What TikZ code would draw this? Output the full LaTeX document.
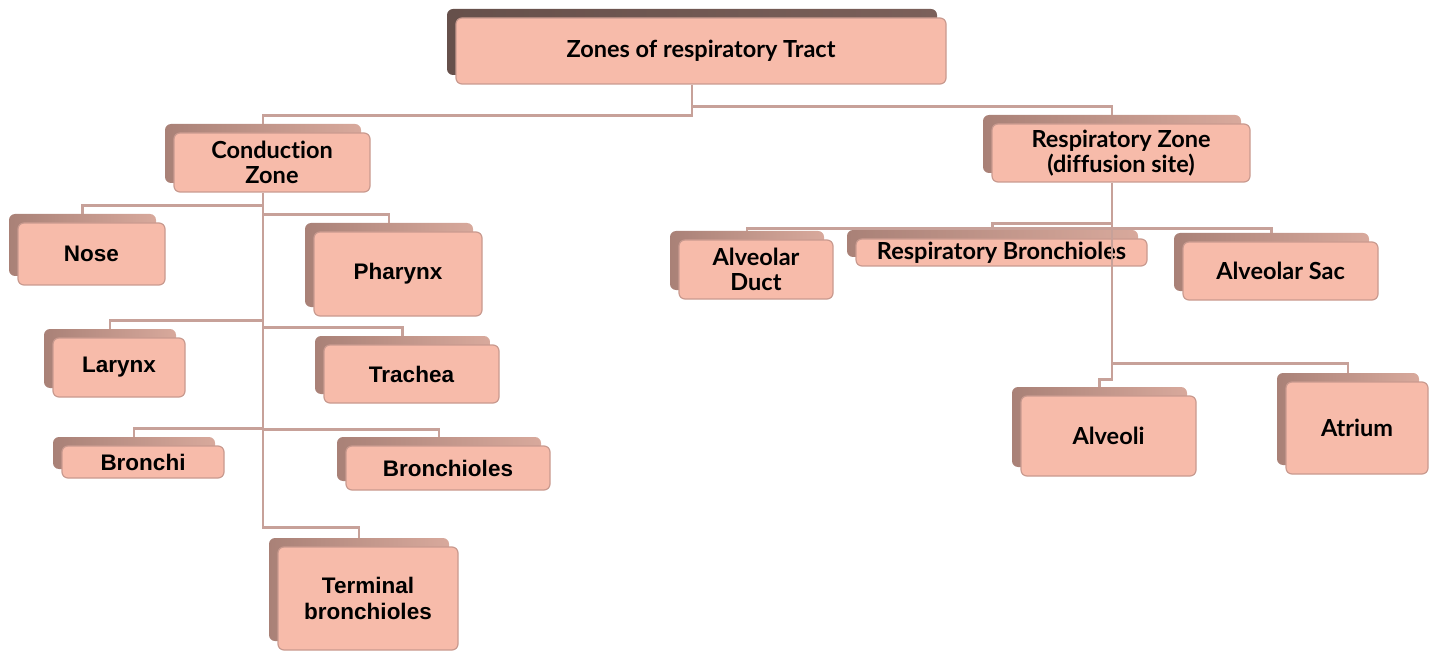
\documentclass[tikz,border=0pt]{standalone}
\usepackage{fontspec}
\setmainfont{Liberation Sans}
\newfontfamily\gill[Ligatures={NoCommon,NoDiscretionary}]{Lato}
\definecolor{rosa}{HTML}{F7BBAA}
\definecolor{rand}{HTML}{C99A8F}
\definecolor{linie}{HTML}{C7A199}
\definecolor{schattenA}{HTML}{A98177}
\definecolor{schattenB}{HTML}{D8A99C}
\definecolor{dunkelA}{HTML}{66504B}
\definecolor{dunkelB}{HTML}{7B605A}
\tikzset{
	feld/.style={draw=rand,fill=rosa,line width=1.2pt,rounded corners=6pt,align=center,inner sep=0pt},
	schatten/.style={rounded corners=6pt,inner sep=0pt,outer sep=0pt},
	hell/.style={left color=schattenA,right color=schattenB},
	dunkel/.style={left color=dunkelA,right color=dunkelB},
	kopf/.style={font=\gill\bfseries\fontsize{23.5}{25}\selectfont},
	blatt/.style={font=\bfseries\fontsize{22.5}{26}\selectfont},
	verbindung/.style={draw=linie,line width=2.5pt}
}
\def\kasten#1#2#3#4#5#6#7#8{
	\node[schatten,#2,minimum width={(#6-#4)*1pt},minimum height={(#7-#5)*1pt}]
		(#1-s) at ({(#4+#6)/2-9},{(#5+#7)/2-9}) {};
	\node[feld,#3,minimum width={(#6-#4)*1pt},minimum height={(#7-#5)*1pt}]
		(#1) at ({(#4+#6)/2},{(#5+#7)/2}) {#8};
}

\begin{document}
\begin{tikzpicture}[x=1pt,y=-1pt]
\useasboundingbox (0,0) rectangle (1437,652);
\kasten{oben}{dunkel}{kopf}{456}{18}{946}{84}{Zones of respiratory Tract}
\kasten{leitung}{hell}{kopf}{174}{133}{370}{192}{Conduction\\Zone}
\kasten{atmung}{hell}{kopf}{992}{124}{1250}{182}{Respiratory Zone\\(diffusion site)}
\kasten{nase}{hell}{blatt}{18}{223}{165}{285}{Nose}
\kasten{rachen}{hell}{blatt}{314}{232}{482}{316}{Pharynx}
\kasten{kehlkopf}{hell}{blatt}{53}{338}{185}{397}{Larynx}
\kasten{luftroehre}{hell}{blatt}{324}{345}{499}{403}{Trachea}
\kasten{bronchien}{hell}{blatt}{62}{446}{224}{478}{Bronchi}
\kasten{bronchiolen}{hell}{blatt}{346}{446}{550}{490}{Bronchioles}
\kasten{endbronchiolen}{hell}{blatt}{278}{547}{458}{650}{Terminal\\bronchioles}
\kasten{gang}{hell}{kopf}{679}{240}{833}{299}{Alveolar\\Duct}
\kasten{atembronchiolen}{hell}{kopf}{856}{239}{1147}{266}{Respiratory Bronchioles}
\kasten{sack}{hell}{kopf}{1183}{242}{1378}{300}{Alveolar Sac}
\kasten{alveolen}{hell}{kopf}{1021}{396}{1196}{476}{Alveoli}
\kasten{atrium}{hell}{kopf}{1286}{382}{1428}{474}{Atrium}

\draw[verbindung] (oben-s.south |- oben.south) -- ++(0,31) -| (leitung-s.north);
\draw[verbindung] (oben-s.south |- oben.south) ++(0,22) -| (atmung-s.north);

\draw[verbindung] (leitung-s.south |- leitung.south) -- ++(0,335) -| (endbronchiolen-s.north);
\foreach \ziel/\tiefe in {nase/13,rachen/22,kehlkopf/128,luftroehre/135,bronchien/236,bronchiolen/237}
	\draw[verbindung] (leitung-s.south |- leitung.south) ++(0,\tiefe) -| (\ziel-s.north);

\draw[verbindung] (atmung-s.south |- atmung.south) -- ++(0,197) -| (alveolen-s.north);
\foreach \ziel/\tiefe in {gang/46,sack/46,atembronchiolen/41,atrium/181}
	\draw[verbindung] (atmung-s.south |- atmung.south) ++(0,\tiefe) -| (\ziel-s.north);
\end{tikzpicture}
\end{document}
